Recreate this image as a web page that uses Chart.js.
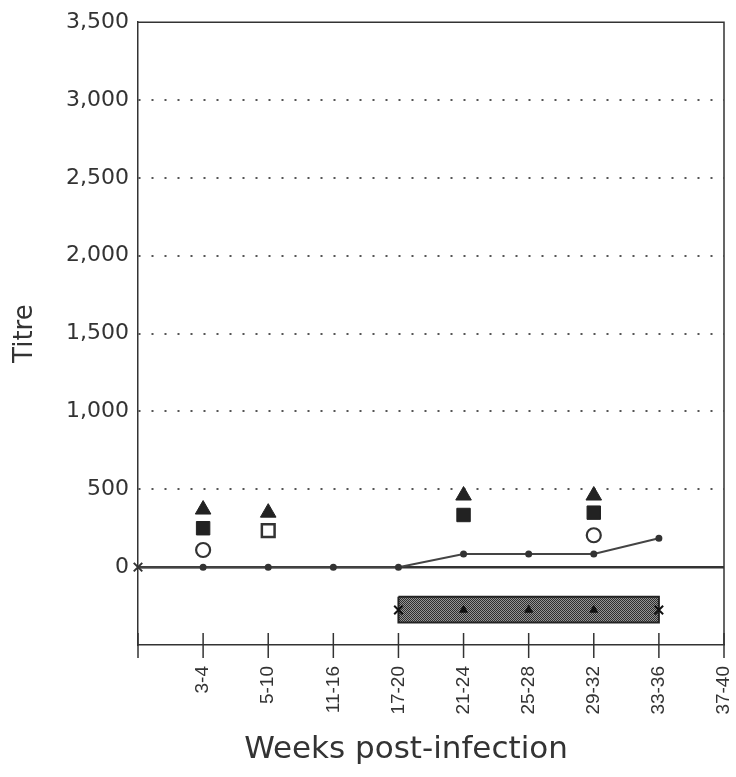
<!DOCTYPE html>
<html>
<head>
<meta charset="utf-8">
<title>Titre by week post-infection</title>
<script src="https://cdn.jsdelivr.net/npm/chart.js@4.4.1/dist/chart.umd.min.js"></script>
<style>
  html, body { margin: 0; padding: 0; background: #fff; }
  #wrap { width: 736px; height: 777px; }
</style>
</head>
<body>
<div id="wrap"><canvas id="titreChart" width="736" height="777"></canvas></div>
<script>
// week bands, position 1..9 on the x axis (0 is the origin)
const weekLabels = ['3-4', '5-10', '11-16', '17-20', '21-24', '25-28', '29-32', '33-36', '37-40'];

// titre line, starting at the origin
const linePos   = [0, 1, 2, 3, 4, 5, 6, 7, 8];
const lineTitre = [0, 0, 0, 0, 0, 85, 85, 85, 185];

// single readings
const triPos      = [1, 2, 5, 7];
const triTitre    = [370, 350, 460, 460];
const squarePos   = [1, 5, 7];
const squareTitre = [250, 335, 350];
const openSqPos   = [2];
const openSqTitre = [235];
const circlePos   = [1, 7];
const circleTitre = [110, 205];

// shaded period below the axis
const bandFrom   = 4;
const bandTo     = 8;
const bandTop    = -190;
const bandBottom = -355;
const bandMarkPos   = [4, 5, 6, 7, 8];
const bandMarkTitre = [-275, -275, -275, -275, -275];

const yTicks = [-500, 0, 500, 1000, 1500, 2000, 2500, 3000, 3500];

const ink = '#333';

const pts = (xs, ys) => xs.map((x, i) => ({ x: x, y: ys[i] }));

const canvas = document.getElementById('titreChart');
const ctx = canvas.getContext('2d');

// fine dark/light checker for the shaded period
function stipple() {
  const c = document.createElement('canvas');
  c.width = 2; c.height = 2;
  const g = c.getContext('2d');
  g.fillStyle = '#959595';
  g.fillRect(0, 0, 2, 2);
  g.fillStyle = '#2e2e2e';
  g.fillRect(0, 0, 1, 1);
  g.fillRect(1, 1, 1, 1);
  return ctx.createPattern(c, 'repeat');
}

const bandOutline = [
  { x: bandFrom, y: bandTop },
  { x: bandTo, y: bandTop },
  { x: bandTo, y: bandBottom },
  { x: bandFrom, y: bandBottom },
  { x: bandFrom, y: bandTop }
];

// frame, zero line, crossing ticks and axis titles
const axisExtras = {
  id: 'axisExtras',
  beforeDatasetsDraw(chart) {
    const { ctx, chartArea: a, scales: { y } } = chart;
    ctx.save();
    ctx.strokeStyle = ink;
    ctx.lineWidth = 1.5;
    ctx.beginPath();
    ctx.moveTo(a.left, a.top);
    ctx.lineTo(a.right, a.top);
    ctx.lineTo(a.right, a.bottom);
    ctx.stroke();
    const y0 = y.getPixelForValue(0);
    ctx.lineWidth = 2.5;
    ctx.beginPath();
    ctx.moveTo(a.left, y0);
    ctx.lineTo(a.right, y0);
    ctx.stroke();
    ctx.restore();
  },
  afterDraw(chart) {
    const { ctx, chartArea: a, scales: { x } } = chart;
    ctx.save();
    ctx.strokeStyle = ink;
    ctx.lineWidth = 1.5;
    x.ticks.forEach(t => {
      const px = x.getPixelForValue(t.value);
      ctx.beginPath();
      ctx.moveTo(px, a.bottom - 12);
      ctx.lineTo(px, a.bottom + 13);
      ctx.stroke();
    });
    ctx.fillStyle = ink;
    ctx.font = '31px "DejaVu Sans"';
    ctx.textAlign = 'center';
    ctx.textBaseline = 'alphabetic';
    ctx.fillText('Weeks post-infection', 406, 758);
    ctx.translate(25, (a.top + a.bottom) / 2);
    ctx.rotate(-Math.PI / 2);
    ctx.font = '26px "DejaVu Sans"';
    ctx.textBaseline = 'middle';
    ctx.fillText('Titre', 0, 0);
    ctx.restore();
  }
};

new Chart(ctx, {
  type: 'line',
  data: {
    datasets: [
      {
        label: 'Period',
        data: bandOutline,
        borderColor: '#222',
        borderWidth: 2,
        backgroundColor: stipple(),
        fill: 'shape',
        tension: 0,
        pointRadius: 0,
        order: 5
      },
      {
        label: 'Period marks',
        data: pts(bandMarkPos, bandMarkTitre),
        showLine: false,
        pointStyle: ['crossRot', 'triangle', 'triangle', 'triangle', 'crossRot'],
        pointRadius: [6, 4.5, 4.5, 4.5, 6],
        pointBackgroundColor: '#111',
        pointBorderColor: '#111',
        pointBorderWidth: [2, 1, 1, 1, 2],
        clip: false,
        order: 4
      },
      {
        label: 'Titre',
        data: pts(linePos, lineTitre),
        borderColor: '#444',
        borderWidth: 2,
        tension: 0,
        pointStyle: linePos.map(p => p === 0 ? 'crossRot' : 'circle'),
        pointRadius: linePos.map(p => p === 0 ? 6 : 2.5),
        pointBackgroundColor: '#333',
        pointBorderColor: '#333',
        pointBorderWidth: 2,
        clip: false,
        order: 3
      },
      {
        label: 'Triangle',
        data: pts(triPos, triTitre),
        showLine: false,
        pointStyle: 'triangle',
        pointRadius: 9,
        pointBackgroundColor: '#222',
        pointBorderColor: '#222',
        pointBorderWidth: 1,
        order: 1
      },
      {
        label: 'Square',
        data: pts(squarePos, squareTitre),
        showLine: false,
        pointStyle: 'rect',
        pointRadius: 9.5,
        pointBackgroundColor: '#222',
        pointBorderColor: '#222',
        pointBorderWidth: 1,
        order: 1
      },
      {
        label: 'Open square',
        data: pts(openSqPos, openSqTitre),
        showLine: false,
        pointStyle: 'rect',
        pointRadius: 9,
        pointBackgroundColor: '#fff',
        pointBorderColor: ink,
        pointBorderWidth: 2.5,
        order: 1
      },
      {
        label: 'Circle',
        data: pts(circlePos, circleTitre),
        showLine: false,
        pointStyle: 'circle',
        pointRadius: 7,
        pointBackgroundColor: '#fff',
        pointBorderColor: ink,
        pointBorderWidth: 2.2,
        order: 1
      }
    ]
  },
  options: {
    responsive: false,
    animation: false,
    layout: { padding: { top: 18, right: 12, bottom: 0, left: 0 } },
    plugins: {
      legend: { display: false },
      tooltip: { enabled: false }
    },
    scales: {
      x: {
        type: 'linear',
        min: 0,
        max: weekLabels.length,
        grid: { display: false, drawTicks: false },
        border: { display: true, color: ink, width: 1.5 },
        afterFit: s => {
          s.height = 132;
          s.paddingLeft = 0;
          s.paddingRight = 0;
        },
        afterBuildTicks: s => {
          s.ticks = [0].concat(weekLabels.map((_, i) => i + 1)).map(v => ({ value: v }));
        },
        ticks: {
          autoSkip: false,
          minRotation: 90,
          maxRotation: 90,
          padding: 21,
          color: ink,
          font: { family: '"Liberation Sans", Arial, sans-serif', size: 19 },
          callback: v => v >= 1 ? weekLabels[v - 1] : ''
        }
      },
      y: {
        min: yTicks[0],
        max: yTicks[yTicks.length - 1],
        afterFit: s => { s.width = 138; },
        afterBuildTicks: s => { s.ticks = yTicks.map(v => ({ value: v })); },
        grid: {
          drawTicks: false,
          lineWidth: 2,
          color: c => (c.tick && c.tick.value > 0 && c.tick.value < 3500) ? '#555' : 'transparent'
        },
        border: { display: true, color: ink, width: 1.5, dash: [2, 11] },
        ticks: {
          padding: 9,
          color: ink,
          font: { family: '"DejaVu Sans", sans-serif', size: 22 },
          callback: v => v < 0 ? '' : v.toLocaleString('en-US')
        }
      }
    }
  },
  plugins: [axisExtras]
});
</script>
</body>
</html>
